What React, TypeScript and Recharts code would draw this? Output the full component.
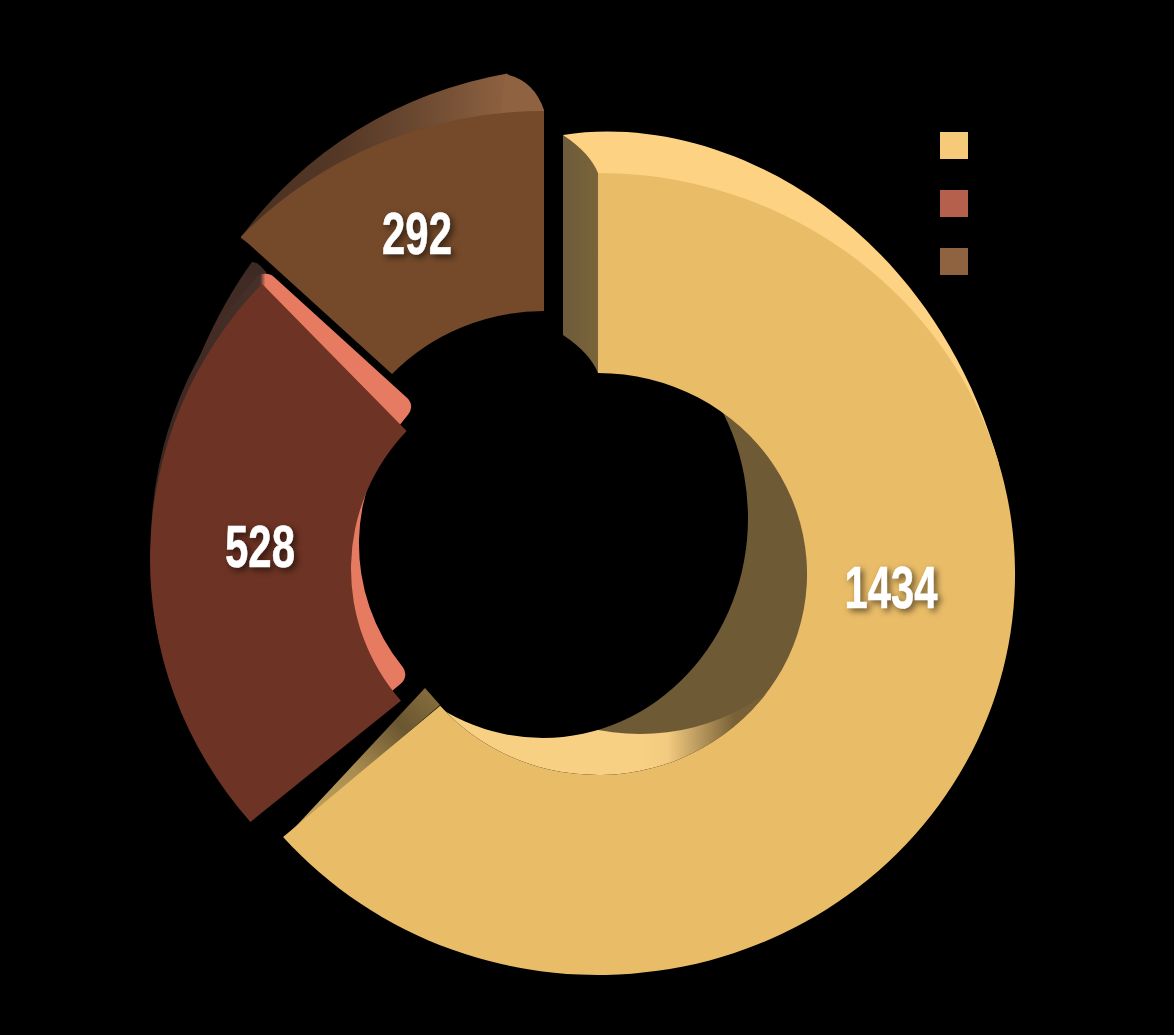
import React from "react";
import { PieChart, Pie, Sector, Legend } from "recharts";

const categories = ["Category A", "Category B", "Category C"];
const values = [1434, 528, 292];
const legendColors = ["#f6ca78", "#b5604c", "#8f6240"];
const tableData = categories.map((name, i) => ({ name, value: values[i], fill: legendColors[i] }));

const SX = 1.04;
const FACE = ["#e9bc68", "#6d3324", "#744a2a"];
const OFFSETS = [
  [0, 0],
  [-38, -15],
  [-54, -62],
];
const LABEL_POS = [
  [293, 13],
  [-338, -28],
  [-181, -341],
];
const LABEL_W = [93, 70, 70];

type E = {
  x: number; y: number; sx?: number; sy?: number; r0?: number; r1: number;
  a0?: number; a1?: number; fill: string; corner?: number;
};
const Ell = ({ x, y, sx = SX, sy = 1, r0 = 0, r1, a0 = 0, a1 = 360, fill, corner = 0 }: E) => (
  <g transform={`translate(${x} ${y}) scale(${sx} ${sy})`}>
    <Sector cx={0} cy={0} innerRadius={r0} outerRadius={r1} startAngle={a0} endAngle={a1} fill={fill} stroke="none" cornerRadius={corner} />
  </g>
);

const RAD = Math.PI / 180;
const pt = (x: number, y: number, rx: number, ry: number, a: number) =>
  `${x + rx * Math.cos(a * RAD)} ${y - ry * Math.sin(a * RAD)}`;

const renderSlice = (p: any) => {
  const { cx, cy, innerRadius: ri, outerRadius: ro, startAngle: a0, endAngle: a1, index } = p;
  const [ox, oy] = OFFSETS[index];
  const fx = cx + ox;
  const fy = cy + oy;
  const face = <Ell x={fx} y={fy} r0={ri} r1={ro} a0={a0} a1={a1} fill={FACE[index]} />;
  if (index === 0) {
    return (
      <g>
        <path
          d={`M${fx - 35} ${fy - 439} C${fx + 122} ${fy - 464} ${fx + 332} ${fy - 354} ${fx + 401} ${fy - 110} L${fx + 300} ${fy - 170} L${fx + 10} ${fy - 300} Z`}
          fill="#fdd282"
        />
        <Ell x={fx} y={fy} r1={ri} a0={a0} a1={a1} fill="url(#wallLight)" />
        <Ell x={fx + 42} y={fy - 41} r1={ri} fill="#6f5a36" />
        <ellipse cx={fx - 55} cy={fy - 56} rx={205} ry={220} fill="#000" />
        <path
          d={`M${fx - 35} ${fy - 439} Q${fx - 8} ${fy - 421} ${fx} ${fy - ro} L${fx} ${fy - ri} Q${fx - 8} ${fy - 221} ${fx - 35} ${fy - 239} Z`}
          fill="url(#wallStart)"
        />
        <path d={`M${fx - 313} ${fy + 264} L${fx - 173} ${fy + 114} L${fx - 158} ${fy + 131} Z`} fill="url(#wallEnd)" />
        {face}
      </g>
    );
  }
  if (index === 1) {
    const orx = 410;
    const irx = 204;
    const ix = fx - 5;
    const iy = fy + 10;
    const d = `M${pt(fx, fy, orx, ro, a0)} A${orx} ${ro} 0 0 1 ${pt(fx, fy, orx, ro, a1)} L${pt(ix, iy, irx, ri, a1)} A${irx} ${ri} 0 0 0 ${pt(ix, iy, irx, ri, a0)} Z`;
    return (
      <g>
        <path
          d={`M${fx - 402} ${fy - 79} Q${fx - 365} ${fy - 219} ${fx - 308} ${fy - 297} Q${fx - 302} ${fy - 297} ${fx - 294} ${fy - 287} L${fx - 260} ${fy - 159} Z`}
          fill="url(#rimDark)"
        />
        <Ell x={fx + 8} y={fy - 15} r0={ri} r1={ro} a0={a0} a1={a1} corner={12} fill="url(#rim2)" />
        <path d={d} fill={FACE[1]} />
      </g>
    );
  }
  return (
    <g>
      <Ell x={fx + 38} y={fy - 44} r0={300} r1={ro} a0={100.3} a1={145} fill="url(#rim3)" />
      <path d={`M${fx - 39} ${fy - 438} Q${fx - 10} ${fy - 432} ${fx} ${fy - 402} L${fx} ${fy - 390} L${fx - 44} ${fy - 390} Z`} fill="#8f6242" />
      {face}
    </g>
  );
};

const renderLabel = (p: any) => {
  const { cx, cy, index, value } = p;
  const [dx, dy] = LABEL_POS[index];
  return (
    <text
      x={cx + dx}
      y={cy + dy + 21}
      textAnchor="middle"
      fill="#ffffff"
      stroke="#ffffff"
      strokeWidth={0.6}
      fontFamily="'Liberation Sans Narrow', 'Liberation Sans', sans-serif"
      fontWeight={700}
      fontSize={60}
      textLength={LABEL_W[index]}
      lengthAdjust="spacingAndGlyphs"
      style={{ filter: "drop-shadow(3px 3px 3px rgba(0,0,0,0.55))" }}
    >
      {value}
    </text>
  );
};

const renderLegend = ({ payload }: any) => (
  <div>
    {(payload || []).map((e: any, i: number) => (
      <div key={i} style={{ width: 28, height: 27, marginBottom: 31, background: e.color }} />
    ))}
  </div>
);

export default function App() {
  return (
    <div style={{ position: "fixed", left: 0, top: 0, width: 1174, height: 1035, background: "#000", overflow: "hidden" }}>
      <PieChart width={1174} height={1035} margin={{ top: 0, right: 0, bottom: 0, left: 0 }}>
        <defs>
          <linearGradient id="wallLight" x1="0" y1="0" x2="1" y2="0">
            <stop offset="0.55" stopColor="#f8d083" />
            <stop offset="0.62" stopColor="#f3cb80" />
            <stop offset="0.8" stopColor="#7a6238" />
            <stop offset="1" stopColor="#6f5a36" />
          </linearGradient>
          <linearGradient id="wallStart" x1="0" y1="0" x2="1" y2="0">
            <stop offset="0" stopColor="#6d5b3a" />
            <stop offset="1" stopColor="#7a6439" />
          </linearGradient>
          <linearGradient id="wallEnd" x1="1" y1="0" x2="0" y2="1">
            <stop offset="0" stopColor="#8a7140" />
            <stop offset="0.25" stopColor="#6a5630" />
            <stop offset="0.55" stopColor="#a88c50" />
            <stop offset="1" stopColor="#d0ac60" />
          </linearGradient>
          <linearGradient id="rimDark" x1="0" y1="0" x2="0" y2="1">
            <stop offset="0" stopColor="#3d2a25" />
            <stop offset="1" stopColor="#5a2e22" />
          </linearGradient>
          <linearGradient id="rim2" x1="0" y1="0" x2="1" y2="0">
            <stop offset="0" stopColor="#3a2620" />
            <stop offset="0.42" stopColor="#46302a" />
            <stop offset="0.44" stopColor="#e77b61" />
            <stop offset="1" stopColor="#e77b61" />
          </linearGradient>
          <linearGradient id="rim3" x1="0" y1="0" x2="1" y2="0">
            <stop offset="0" stopColor="#4a3022" />
            <stop offset="0.35" stopColor="#553826" />
            <stop offset="0.65" stopColor="#6e4b32" />
            <stop offset="0.9" stopColor="#8a5f40" />
            <stop offset="1" stopColor="#8f6242" />
          </linearGradient>
        </defs>
        <Pie
          data={tableData}
          dataKey="value"
          nameKey="name"
          cx={598}
          cy={574}
          innerRadius={201}
          outerRadius={401}
          startAngle={90}
          endAngle={-270}
          stroke="none"
          isAnimationActive={false}
          shape={renderSlice}
          inactiveShape={renderSlice}
          activeShape={renderSlice}
          label={renderLabel}
          labelLine={false}
        />
        <Legend
          layout="vertical"
          content={renderLegend}
          wrapperStyle={{ position: "absolute", left: 940, top: 132, width: 28, bottom: "auto", right: "auto" }}
        />
      </PieChart>
    </div>
  );
}
